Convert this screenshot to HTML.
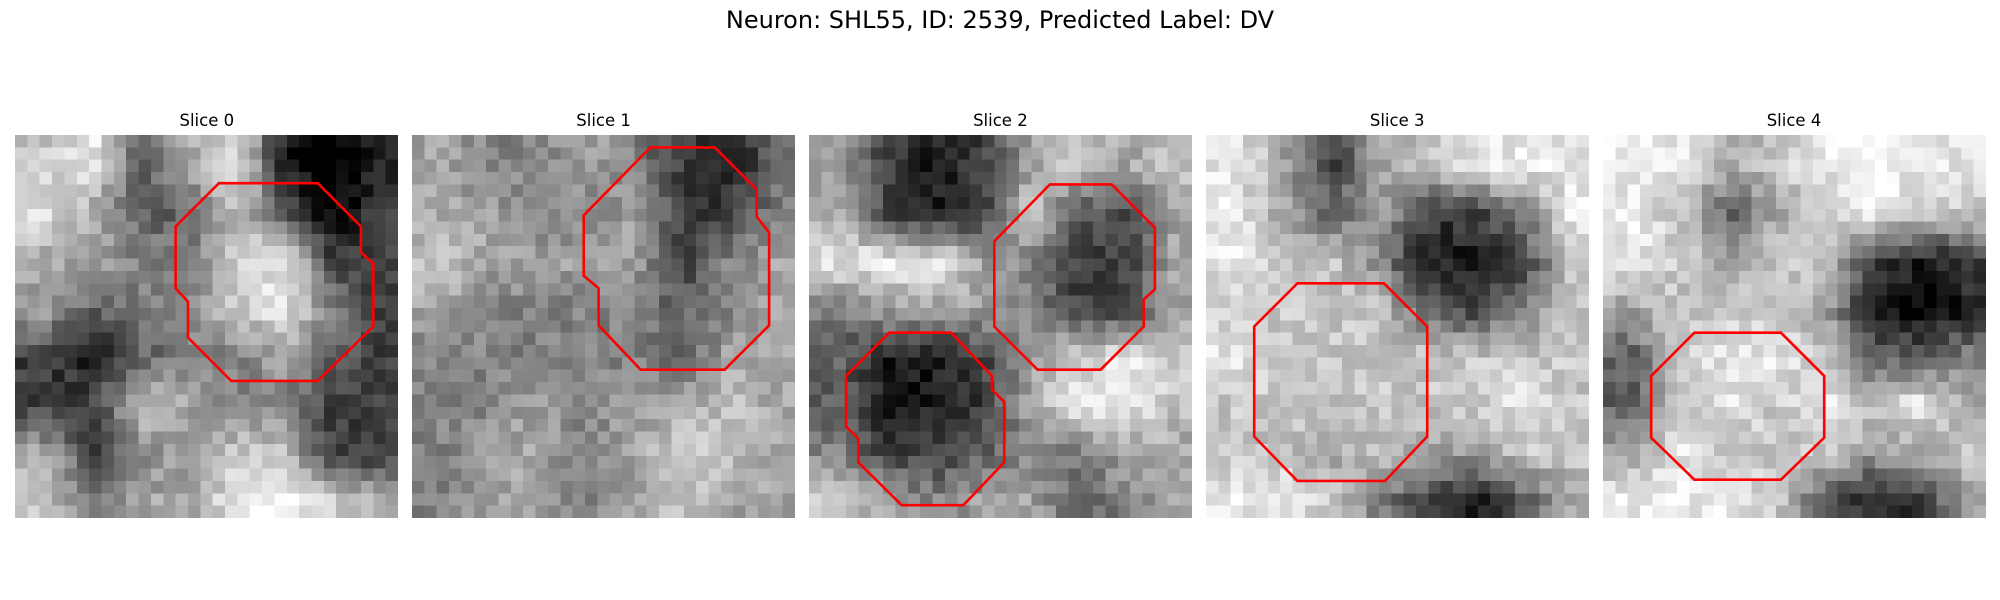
<!DOCTYPE html>
<html><head><meta charset="utf-8">
<style>
html,body{margin:0;padding:0;background:#fff;}
#root{position:relative;width:2000px;height:600px;overflow:hidden;font-family:"DejaVu Sans","Liberation Sans",sans-serif;color:#000;}
#title{position:absolute;left:0;width:2000px;top:6px;text-align:center;font-size:24px;}
.ptitle{position:absolute;top:111px;width:383px;text-align:center;font-size:16.5px;}
canvas.img{position:absolute;top:134.5px;width:383px;height:383px;image-rendering:pixelated;}
svg.ov{position:absolute;top:134.5px;width:383px;height:383px;overflow:visible;}
</style></head>
<body>
<div id="root">
<div id="title">Neuron: SHL55, ID: 2539, Predicted Label: DV</div>
</div>
<script>
// coarse 8x8 brightness maps (0 dark .. 9 light) per slice
const slice0 = [[7,8,4,6,8,2,1,2],[8,6,4,4,7,4,1,3],[6,6,5,5,7,8,3,3],[6,4,5,5,7,8,5,3],[3,2,4,5,5,6,4,3],[3,3,7,6,5,5,3,3],[6,3,5,6,7,7,3,3],[7,5,6,6,8,9,7,6]];
const slice1 = [[6,5,5,6,5,3,2,4],[6,6,5,5,6,3,3,5],[7,6,6,6,6,3,5,6],[6,5,5,5,5,4,5,6],[5,5,5,5,5,4,6,6],[5,5,6,5,6,6,7,6],[5,6,6,5,6,7,7,6],[5,6,6,5,6,7,6,6]];
const slice2 = [[6,3,2,3,6,7,6,7],[6,3,2,3,7,4,3,6],[8,8,8,6,5,3,3,6],[5,6,6,6,5,3,3,6],[4,2,2,3,6,7,8,7],[4,2,2,3,6,8,8,7],[5,3,3,4,5,5,6,6],[7,6,5,6,6,4,5,6]];
const slice3 = [[8,6,3,6,7,8,8,8],[8,6,4,6,3,3,5,8],[8,7,7,5,2,2,3,7],[7,7,7,7,4,3,5,7],[8,7,7,7,7,7,7,7],[7,7,7,7,7,7,8,7],[7,7,6,7,6,6,7,7],[8,8,7,5,3,2,4,6]];
const slice4 = [[8,8,6,7,8,9,8,8],[8,7,4,6,7,8,7,7],[8,7,6,7,7,3,2,3],[6,7,7,7,6,2,1,2],[4,7,8,8,7,4,4,5],[4,7,8,7,8,7,8,6],[6,8,7,7,7,6,6,7],[8,8,8,7,4,2,3,6]];
const maps = [slice0,slice1,slice2,slice3,slice4];
// ROI polygons in image-cell units
const roi0 = [[[16.5,3.9],[24.5,3.9],[28,7.4],[28,9.5],[29,10.4],[29,15.5],[24.5,19.9],[17.5,19.9],[14,16.4],[14,13.5],[13,12.4],[13,7.4]]];
const roi1 = [[[19.3,1.0],[24.5,1.0],[27.9,4.4],[27.9,6.6],[28.9,7.9],[28.9,15.4],[25.3,19.0],[18.5,19.0],[15.1,15.4],[15.1,12.4],[13.9,11.4],[13.9,6.5]]];
const roi2 = [[[19.5,4.0],[24.5,4.0],[28.0,7.5],[28.0,12.5],[27.1,13.3],[27.1,15.5],[23.6,19.0],[18.5,19.0],[15.0,15.5],[15.0,8.6]],
              [[6.5,16.0],[11.5,16.0],[14.8,19.5],[14.8,20.6],[15.8,21.6],[15.8,26.5],[12.5,29.96],[7.5,29.96],[4.0,26.5],[4.0,24.6],[3.0,23.6],[3.0,19.5]]];
const roi3 = [[[7.4,12.0],[14.4,12.0],[17.9,15.5],[17.9,24.4],[14.5,28.0],[7.4,28.0],[3.9,24.4],[3.9,15.5]]];
const roi4 = [[[7.4,16.0],[14.4,16.0],[17.9,19.5],[17.9,24.5],[14.4,27.9],[7.4,27.9],[3.9,24.5],[3.9,19.5]]];
const rois = [roi0,roi1,roi2,roi3,roi4];
const titles = ["Slice 0","Slice 1","Slice 2","Slice 3","Slice 4"];

const root = document.getElementById('root');
const N = 31, SIZE = 383, CELL = SIZE/N;
function hash(i,j,k){let h=(i*374761393+j*668265263+k*2147483647)|0;h=(h^(h>>>13))*1274126177|0;return ((h^(h>>>16))>>>0)/4294967295;}
function sample(m,x,y){
  const gx=Math.max(0,Math.min(7,x*8/N-0.5)), gy=Math.max(0,Math.min(7,y*8/N-0.5));
  const x0=Math.floor(gx),y0=Math.floor(gy),x1=Math.min(7,x0+1),y1=Math.min(7,y0+1);
  const fx=gx-x0,fy=gy-y0;
  return (m[y0][x0]*(1-fx)+m[y0][x1]*fx)*(1-fy)+(m[y1][x0]*(1-fx)+m[y1][x1]*fx)*fy;
}
maps.forEach((m,k)=>{
  const left = 15.3 + k*396.8;
  const t = document.createElement('div');
  t.className='ptitle'; t.style.left=left+'px'; t.textContent=titles[k];
  
  
  root.appendChild(t);
  const c = document.createElement('canvas');
  c.width=N; c.height=N; c.className='img'; c.style.left=left+'px';
  
  
  const ctx=c.getContext('2d');
  const id=ctx.createImageData(N,N);
  for(let y=0;y<N;y++)for(let x=0;x<N;x++){
    let v=(sample(m,x,y)-1.2)/7.3*250+(hash(x,y,k)-0.5)*50;
    v=Math.max(0,Math.min(255,Math.round(v)));
    const p=(y*N+x)*4; id.data[p]=id.data[p+1]=id.data[p+2]=v; id.data[p+3]=255;
  }
  ctx.putImageData(id,0,0);
  root.appendChild(c);
  const svgNS='http://www.w3.org/2000/svg';
  const s=document.createElementNS(svgNS,'svg');
  s.setAttribute('class','ov'); s.style.left=left+'px';
  s.setAttribute('viewBox','0 0 '+SIZE+' '+SIZE);
  
  
  rois[k].forEach(poly=>{
    const pg=document.createElementNS(svgNS,'polygon');
    pg.setAttribute('points',poly.map(p=>(p[0]*CELL).toFixed(1)+','+(p[1]*CELL).toFixed(1)).join(' '));
    pg.setAttribute('fill','none'); pg.setAttribute('stroke','#ff0000'); pg.setAttribute('stroke-width','2.6');
    
    
    s.appendChild(pg);
  });
  root.appendChild(s);
});
</script>
</body></html>
